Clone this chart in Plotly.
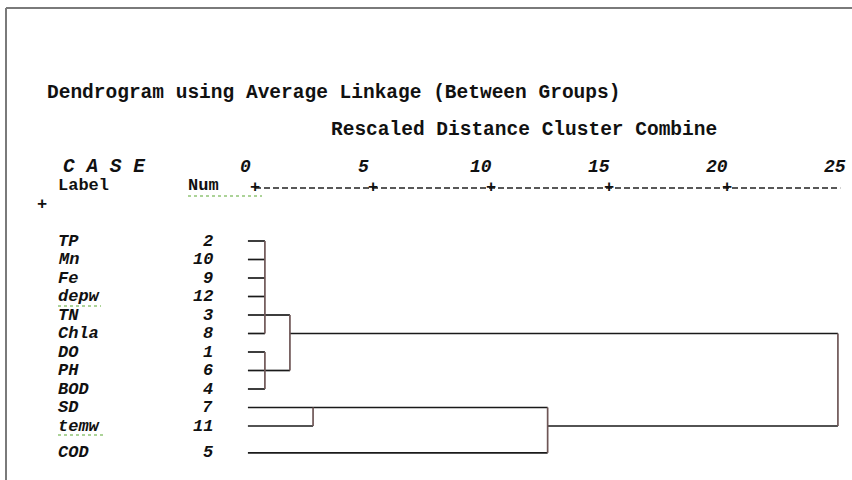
import plotly.graph_objects as go

# ---------------- data ----------------
leaf_labels = ["TP", "Mn", "Fe", "depw", "TN", "Chla", "DO", "PH", "BOD", "SD", "temw", "COD"]
case_nums = [2, 10, 9, 12, 3, 8, 1, 6, 4, 7, 11, 5]
scale_ticks = [0, 5, 10, 15, 20, 25]
title_text = "Dendrogram using Average Linkage (Between Groups)"
subtitle_text = "Rescaled Distance Cluster Combine"

# clusters: inputs are leaf indices (int) or cluster names (str)
cluster_names = ["A", "B", "C", "D", "E", "F"]
cluster_inputs = [[0, 1, 2, 3, 4, 5], [6, 7, 8], ["A", "B"], [9, 10], ["D", 11], ["C", "E"]]
cluster_heights = [0.42, 0.42, 1.48, 2.46, 12.4, 24.7]
cluster_out_rows = [4, 7, 5, 9, 10, None]

# ---------------- layout helpers ----------------
W, H = 852, 480
PX_PER_UNIT = 23.6
X0_PX = 255            # pixel of distance 0
ROW0_PX = 241          # pixel of first row
ROW_PX = 18.5          # pixel per row
LEAF_START = -0.3

row_pos = [float(i) for i in range(len(leaf_labels))]
row_pos[-1] += 0.45    # extra gap before last case (as in the output)

xr0 = -X0_PX / PX_PER_UNIT
xr1 = xr0 + W / PX_PER_UNIT
yr_top = -ROW0_PX / ROW_PX
yr_bot = (H - ROW0_PX) / ROW_PX


def px(xp):
    return xp / W


def py(yp):
    return 1 - yp / H


FONT = "Liberation Mono, Courier New, monospace"
HCOL = "#1a1a1a"
VCOL = "#6e5656"
TS = 19.5  # title text size
AS = 18    # axis header size
RS = 17    # row text size

fig = go.Figure()

parent_h = {}
for name, inp, h in zip(cluster_names, cluster_inputs, cluster_heights):
    for c in inp:
        parent_h[c] = h
cl = {n: (inp, h, r) for n, inp, h, r in zip(cluster_names, cluster_inputs, cluster_heights, cluster_out_rows)}


def in_row(c):
    if isinstance(c, int):
        return row_pos[c]
    return row_pos[cl[c][2]]


hx, hy, vx, vy = [], [], [], []
for i in range(len(leaf_labels)):
    hx += [LEAF_START, parent_h[i], None]
    hy += [row_pos[i], row_pos[i], None]
for name in cluster_names:
    inp, h, r = cl[name]
    rows = [in_row(c) for c in inp]
    vx += [h, h, None]
    vy += [min(rows), max(rows), None]
    if r is not None:
        hx += [h, parent_h[name], None]
        hy += [row_pos[r], row_pos[r], None]

fig.add_trace(go.Scatter(x=hx, y=hy, mode="lines", line=dict(color=HCOL, width=1.7),
                         hoverinfo="skip", showlegend=False))
fig.add_trace(go.Scatter(x=vx, y=vy, mode="lines", line=dict(color=VCOL, width=1.7),
                         hoverinfo="skip", showlegend=False))

ann = []
for lab, num, y in zip(leaf_labels, case_nums, row_pos):
    ann.append(dict(x=px(56), xref="paper", y=y, yref="y", text=lab, showarrow=False,
                    xanchor="left", yanchor="middle",
                    font=dict(family=FONT, size=RS, color="#111", weight="bold", style="italic")))
    ann.append(dict(x=px(215), xref="paper", y=y, yref="y", text=str(num), showarrow=False,
                    xanchor="right", yanchor="middle",
                    font=dict(family=FONT, size=RS, color="#111", weight="bold", style="italic")))

ann.append(dict(x=px(45), xref="paper", y=py(93), yref="paper", text=title_text, showarrow=False,
                xanchor="left", yanchor="middle",
                font=dict(family=FONT, size=TS, color="#111", weight="bold")))
ann.append(dict(x=px(329), xref="paper", y=py(130), yref="paper", text=subtitle_text, showarrow=False,
                xanchor="left", yanchor="middle",
                font=dict(family=FONT, size=TS, color="#111", weight="bold")))
ann.append(dict(x=px(61), xref="paper", y=py(167), yref="paper", text="C A S E", showarrow=False,
                xanchor="left", yanchor="middle",
                font=dict(family=FONT, size=TS, color="#111", weight="bold", style="italic")))
ann.append(dict(x=px(56), xref="paper", y=py(185), yref="paper", text="Label", showarrow=False,
                xanchor="left", yanchor="middle",
                font=dict(family=FONT, size=RS, color="#111", weight="bold")))
ann.append(dict(x=px(186), xref="paper", y=py(185), yref="paper", text="Num", showarrow=False,
                xanchor="left", yanchor="middle",
                font=dict(family=FONT, size=RS, color="#111", weight="bold")))
ann.append(dict(x=px(42), xref="paper", y=py(205), yref="paper", text="+", showarrow=False,
                xanchor="center", yanchor="middle",
                font=dict(family=FONT, size=RS, color="#111", weight="bold")))

for t in scale_ticks:
    ann.append(dict(x=t, xref="x", y=py(167), yref="paper", text=str(t), showarrow=False,
                    xanchor="center", yanchor="middle", xshift=-10,
                    font=dict(family=FONT, size=AS, color="#111", weight="bold", style="italic")))
    if t < scale_ticks[-1]:
        ann.append(dict(x=t, xref="x", y=py(188), yref="paper", text="+", showarrow=False,
                        xanchor="center", yanchor="middle",
                        font=dict(family=FONT, size=RS, color="#111", weight="bold")))

shapes = [
    dict(type="line", xref="x", yref="paper", x0=scale_ticks[0], x1=scale_ticks[-1] - 0.2,
         y0=py(188), y1=py(188), line=dict(color="#222", width=1.4, dash="6px,3px")),
    dict(type="line", xref="paper", yref="paper", x0=px(6), x1=1, y0=py(8), y1=py(8),
         line=dict(color="#7a7a7a", width=2)),
    dict(type="line", xref="paper", yref="paper", x0=px(6), x1=px(6), y0=py(8), y1=0,
         line=dict(color="#7a7a7a", width=2)),
    dict(type="line", xref="paper", yref="paper", x0=px(188), x1=px(262), y0=py(196), y1=py(196),
         line=dict(color="#5aa832", width=1.2, dash="dot")),
    dict(type="line", xref="paper", yref="paper", x0=px(58), x1=px(101), y0=py(306), y1=py(306),
         line=dict(color="#5aa832", width=1.2, dash="dot")),
    dict(type="line", xref="paper", yref="paper", x0=px(58), x1=px(104), y0=py(435), y1=py(435),
         line=dict(color="#5aa832", width=1.2, dash="dot")),
]

fig.update_layout(
    width=W, height=H,
    margin=dict(l=0, r=0, t=0, b=0),
    paper_bgcolor="white", plot_bgcolor="white",
    xaxis=dict(range=[xr0, xr1], visible=False, fixedrange=True),
    yaxis=dict(range=[yr_bot, yr_top], visible=False, fixedrange=True),
    annotations=ann,
    shapes=shapes,
    showlegend=False,
)

fig.write_html("out.html", config={"displayModeBar": False},
               post_script="document.body.style.margin='0';document.body.style.overflow='hidden';")
